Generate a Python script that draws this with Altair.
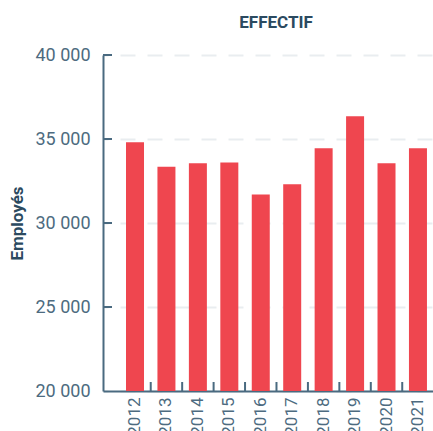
import altair as alt
import pandas as pd

# Headcount per year
years = ["2012", "2013", "2014", "2015", "2016", "2017", "2018", "2019", "2020", "2021"]
employees = [34800, 33350, 33550, 33600, 31700, 32300, 34450, 36350, 33550, 34450]
y_ticks = [20000, 25000, 30000, 35000, 40000]
baseline = 20000

df = pd.DataFrame({"year": years, "employees": employees})
ticks_y = pd.DataFrame({"v": y_ticks[1:]})
ticks_x = pd.DataFrame({"year": years[1:]})

W, H = 330, 336
AXIS = "#4a6a80"
LABEL = "#4d6b80"
TITLE = "#2b4a60"
FONT = "Roboto"

x_scale = alt.Scale(domain=years, paddingInner=0.4275, paddingOuter=0.462, align=0.792)
y_scale = alt.Scale(domain=[20000, 40000], nice=False, zero=False)

bars = alt.Chart(df).mark_bar(color="#ef464f").encode(
    x=alt.X(
        "year:N",
        scale=x_scale,
        sort=years,
        axis=alt.Axis(
            title=None,
            labelAngle=270,
            labelFontSize=17,
            labelColor=LABEL,
            labelFont=FONT,
            labelPadding=6,
            labelOverlap=False,
            labelBound=False,
            ticks=False,
            domainColor=AXIS,
            domainWidth=2,
            grid=False,
        ),
    ),
    y=alt.Y(
        "employees:Q",
        scale=y_scale,
        axis=alt.Axis(
            title="Employés",
            titleFont=FONT,
            titleFontSize=17,
            titleFontWeight="bold",
            titleColor=TITLE,
            titleX=-86,
            titleY=H / 2,
            titleBaseline="middle",
            values=y_ticks,
            labelExpr="replace(format(datum.value, ','), ',', ' ')",
            labelFont=FONT,
            labelFontSize=18,
            labelColor=LABEL,
            labelPadding=13,
            ticks=False,
            domainColor=AXIS,
            domainWidth=2,
            grid=True,
            gridColor="#e9edf0",
            gridWidth=2,
            gridDash=[15, 12],
            gridDashOffset=10,
        ),
    ),
    y2=alt.datum(baseline),
)

# inward tick marks on the value axis
ytick_rules = alt.Chart(ticks_y).mark_rule(color=AXIS, strokeWidth=2).encode(
    y=alt.Y("v:Q", scale=y_scale),
    x=alt.value(0),
    x2=alt.value(9),
)

# inward tick marks between the year bands
xtick_rules = alt.Chart(ticks_x).mark_rule(color=AXIS, strokeWidth=2, xOffset=-15.72).encode(
    x=alt.X("year:N", scale=x_scale, sort=years),
    y=alt.value(H - 9),
    y2=alt.value(H),
)

chart = alt.layer(bars, ytick_rules, xtick_rules).properties(
    width=W,
    height=H,
    title=alt.TitleParams(
        "EFFECTIF",
        font=FONT,
        fontSize=17,
        fontWeight="bold",
        color=TITLE,
        anchor="middle",
        dx=8,
        offset=14,
    ),
    autosize=alt.AutoSizeParams(type="none"),
    padding={"left": 103, "top": 55, "right": 0, "bottom": 40},
).configure_view(stroke=None)

chart.save("out.html", embed_options={"renderer": "svg", "actions": False})
